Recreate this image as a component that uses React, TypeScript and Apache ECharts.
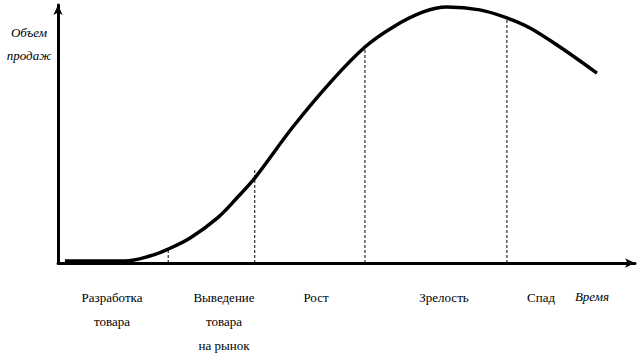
import React, { useEffect, useRef } from "react";
import * as echarts from "echarts";

// Product life-cycle curve (time in %, sales in %)
const curveTime = [1.2, 11.6, 15.9, 19.1, 22.9, 27.6, 31.0, 34.1, 40.7, 47.4, 53.2, 58.1, 63.3, 67.4, 73.1, 77.8, 81.8, 87.0, 93.4];
const curveSales = [0.8, 0.8, 2.7, 5.4, 9.7, 17.4, 25.2, 32.9, 52.7, 70.5, 83.7, 91.5, 97.3, 99.2, 98.1, 95.0, 91.1, 83.7, 73.6];

// Stage boundaries (time, top of dashed line)
const boundaryTime = [19.1, 34.1, 53.2, 77.8];
const boundarySales = [5.4, 36.0, 83.7, 95.0];

// Stage labels
const stageLabels = ["Разработка\nтовара", "Выведение\nтовара\nна рынок", "Рост", "Зрелость", "Спад"];
const yAxisTitle = "Объем\nпродаж";
const xAxisTitle = "Время";

export default function App() {
  const ref = useRef<HTMLDivElement>(null);
  useEffect(() => {
    if (!ref.current) return;
    const chart = echarts.init(ref.current, null, { renderer: "svg" });
    const family = "Liberation Serif";
    const stageX = [112, 224, 316, 444, 541];
    const series: any[] = [
      {
        type: "line",
        data: curveTime.map((t, i) => [t, curveSales[i]]),
        smooth: 0.35,
        symbol: "none",
        lineStyle: { color: "#000", width: 3.5 },
        z: 5,
      },
    ];
    boundaryTime.forEach((t, i) => {
      series.push({
        type: "line",
        data: [
          [t, 0],
          [t, boundarySales[i]],
        ],
        symbol: "none",
        lineStyle: { color: "#000", width: 1, type: [3, 2] },
        z: 3,
      });
    });
    chart.setOption({
      animation: false,
      backgroundColor: "#fff",
      grid: { left: 58, right: 3, top: 5, bottom: 94 },
      xAxis: {
        type: "value",
        min: 0,
        max: 100,
        axisLine: { show: true, lineStyle: { color: "#000", width: 3 }, symbol: ["none", "arrow"], symbolSize: [7, 10] },
        axisTick: { show: false },
        axisLabel: { show: false },
        splitLine: { show: false },
      },
      yAxis: {
        type: "value",
        min: 0,
        max: 100,
        axisLine: { show: true, lineStyle: { color: "#000", width: 3 }, symbol: ["none", "arrow"], symbolSize: [7, 10] },
        axisTick: { show: false },
        axisLabel: { show: false },
        splitLine: { show: false },
      },
      series,
      graphic: [
        ...stageLabels.map((s, i) => ({
          type: "text",
          x: stageX[i],
          y: 285,
          style: {
            text: s,
            fill: "#000",
            fontFamily: family,
            fontSize: 13,
            lineHeight: 24,
            align: "center",
            verticalAlign: "top",
          },
        })),
        {
          type: "text",
          x: 592,
          y: 290,
          style: { text: xAxisTitle, fill: "#000", fontFamily: family, fontStyle: "italic", fontSize: 13, align: "center", verticalAlign: "top" },
        },
        {
          type: "text",
          x: 29,
          y: 21,
          style: {
            text: yAxisTitle,
            fill: "#000",
            fontFamily: family,
            fontStyle: "italic",
            fontSize: 13,
            lineHeight: 23,
            align: "center",
            verticalAlign: "top",
          },
        },
      ],
    });
    return () => chart.dispose();
  }, []);
  return <div ref={ref} style={{ position: "fixed", left: 0, top: 0, width: 638, height: 357 }} />;
}
